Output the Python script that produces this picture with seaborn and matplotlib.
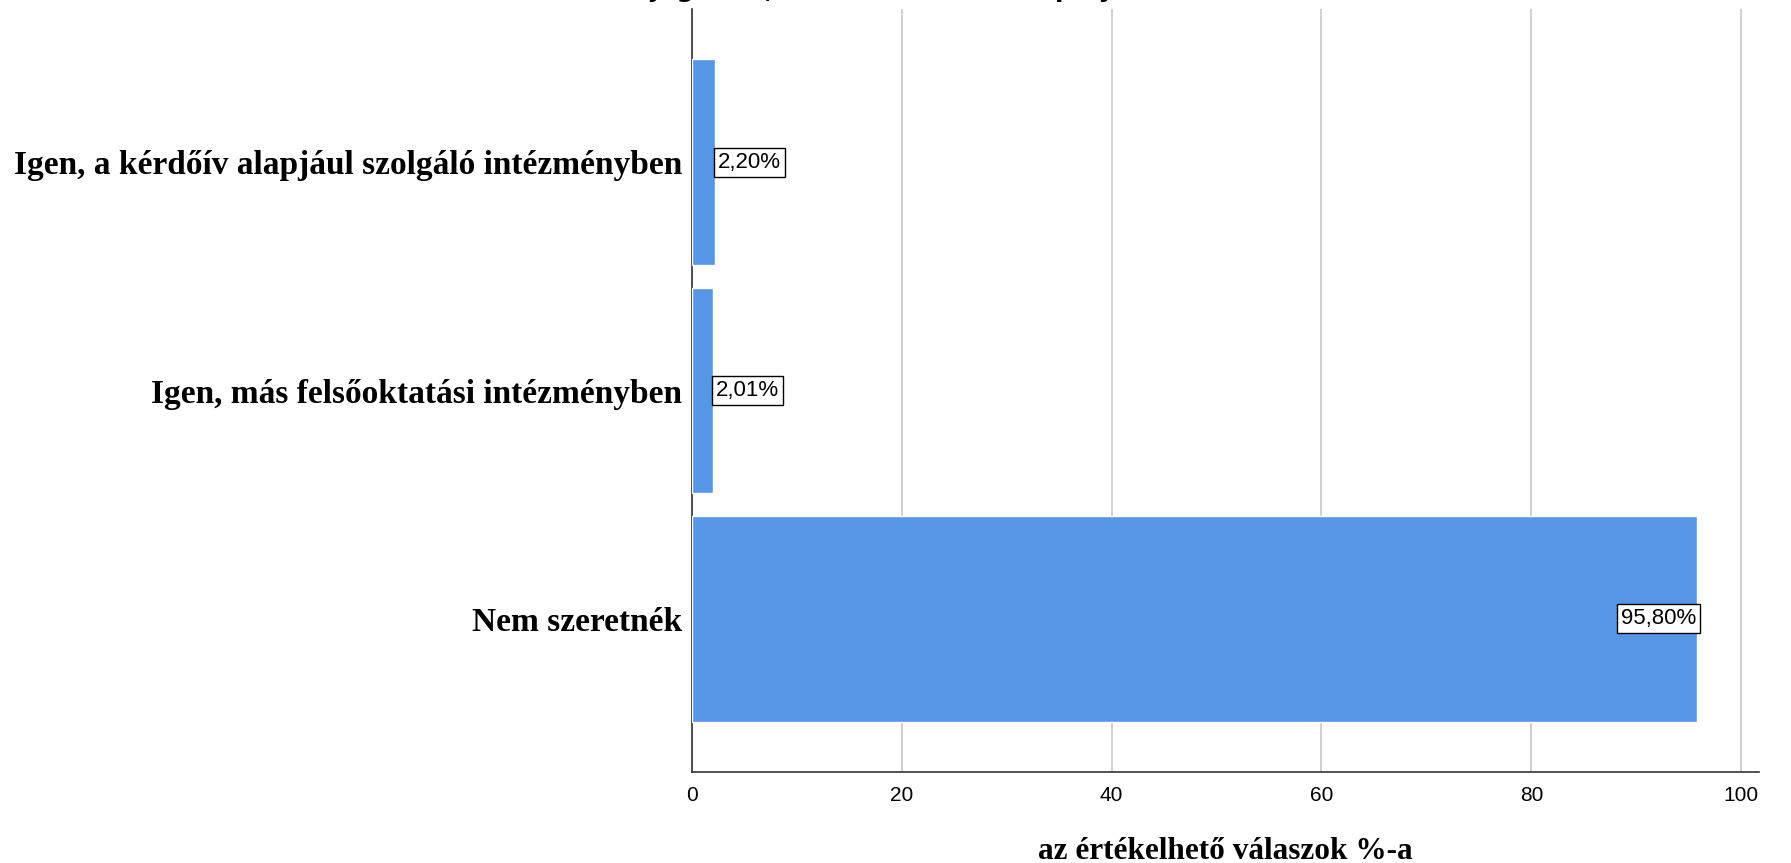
import matplotlib
matplotlib.use("Agg")
import matplotlib.pyplot as plt
import seaborn as sns
import pandas as pd

# adatok
categories = ["Igen, a kérdőív alapjául szolgáló intézményben",
              "Igen, más felsőoktatási intézményben",
              "Nem szeretnék"]
values = [2.20, 2.01, 95.80]
value_labels = ["2,20%", "2,01%", "95,80%"]
x_ticks = [0, 20, 40, 60, 80, 100]
title = "Ha jogosult, akkor hol szeretne pályázni?"
x_label = "az értékelhető válaszok %-a"

BAR_COLOR = "#5596E6"
SERIF = ["Liberation Serif", "DejaVu Serif"]
SANS = ["Liberation Sans", "DejaVu Sans"]

sns.set_style("white")
plt.rcParams["font.family"] = SANS
plt.rcParams["text.color"] = "black"
plt.rcParams["xtick.color"] = "black"
plt.rcParams["ytick.color"] = "black"

df = pd.DataFrame({"kategoria": categories, "ertek": values})

fig = plt.figure(figsize=(17.91, 8.63), dpi=100)
ax = fig.add_axes([692 / 1791, 91 / 863, 1067 / 1791, 763 / 863])

sns.barplot(data=df, y="kategoria", x="ertek", orient="h", color=BAR_COLOR,
            saturation=1, width=0.9, ax=ax, zorder=3)

ax.set_xlim(0, 101.7)
ax.set_ylim(2.67, -0.67)
ax.set_xticks(x_ticks)
ax.set_xticklabels([str(t) for t in x_ticks], fontsize=15, family=SANS)
ax.set_yticks(range(len(categories)))
ax.set_yticklabels(categories, fontsize=24, fontweight="bold", family=SERIF)
ax.tick_params(axis="x", length=0, pad=10)
ax.tick_params(axis="y", length=0, pad=7)

ax.xaxis.grid(True, color="#C8C8C8", linewidth=1.2, zorder=0)
ax.yaxis.grid(False)
ax.set_axisbelow(True)

for side in ["top", "right"]:
    ax.spines[side].set_visible(False)
for side in ["left", "bottom"]:
    ax.spines[side].set_color("#333333")
    ax.spines[side].set_linewidth(1.2)

ax.set_ylabel("")
ax.set_xlabel(x_label, fontsize=22.5, fontweight="bold", family=SERIF,
              labelpad=23, color="black")

# értékcímkék dobozban
for patch, lab, v in zip(ax.patches, value_labels, values):
    yc = patch.get_y() + patch.get_height() / 2
    if v > 50:
        ax.text(v - 0.1, yc, lab, ha="right", va="center", fontsize=16, zorder=5,
                bbox=dict(boxstyle="square,pad=0.18", fc="white", ec="black", lw=1))
    else:
        ax.text(v + 0.3, yc, lab, ha="left", va="center", fontsize=16, zorder=5,
                bbox=dict(boxstyle="square,pad=0.18", fc="white", ec="black", lw=1))

# a cím felső része levágva, mint az eredetin
fig.text(0.5, 1 + 3 / 863, title, ha="center", va="baseline",
         fontsize=18, fontweight="bold", family=["DejaVu Sans"])

fig.savefig("out.png", dpi=100)
